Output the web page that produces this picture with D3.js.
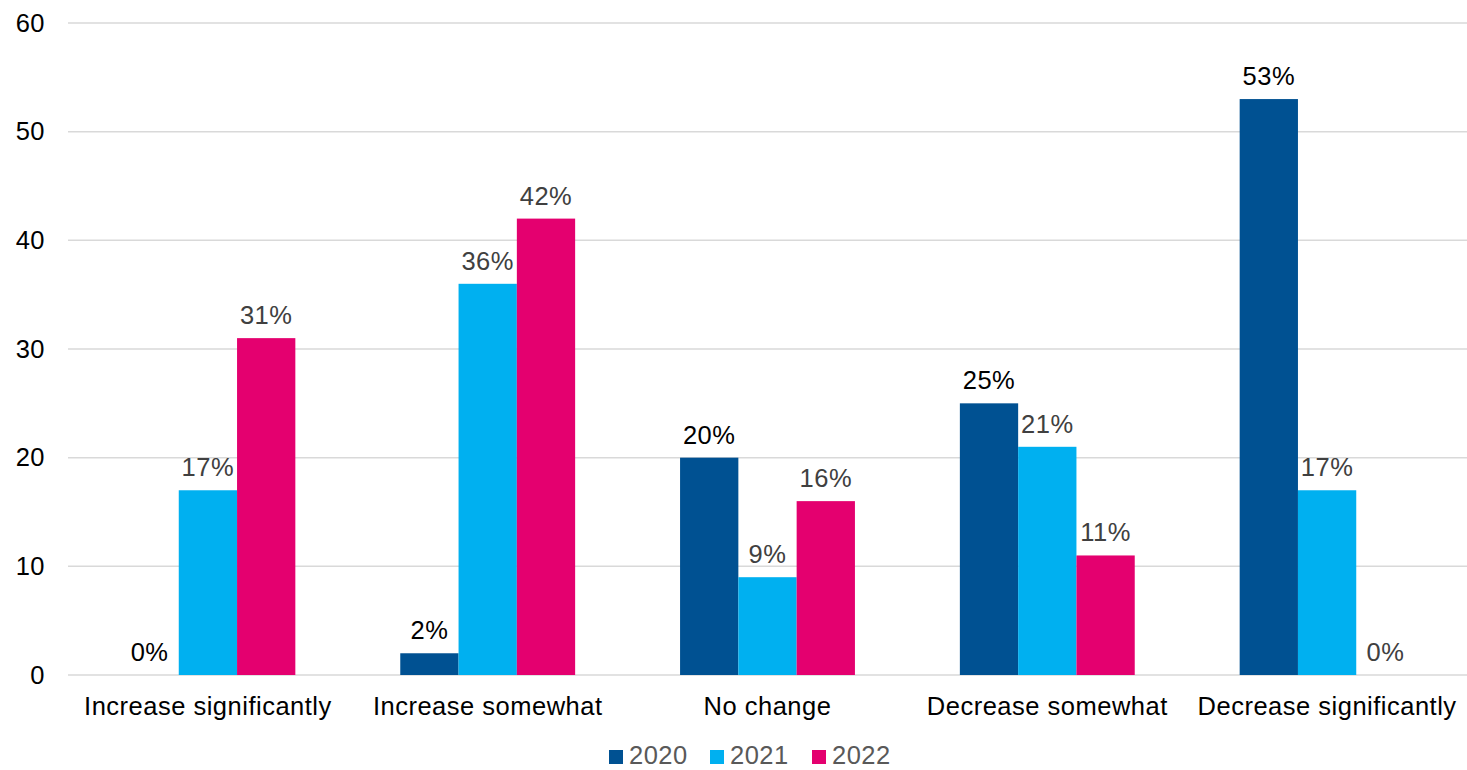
<!DOCTYPE html>
<html>
<head>
<meta charset="utf-8">
<script src="https://cdn.jsdelivr.net/npm/d3@7"></script>
<style>
  html, body { margin: 0; padding: 0; background: #fff; }
  svg { display: block; font-family: "Liberation Sans", Arial, sans-serif; }
</style>
</head>
<body>
<svg id="chart" width="1467" height="770"></svg>
<script>
// Expected change categories and yearly survey shares (%)
const categories = ["Increase significantly", "Increase somewhat", "No change", "Decrease somewhat", "Decrease significantly"];
const years = ["2020", "2021", "2022"];
const values2020 = [0, 2, 20, 25, 53];
const values2021 = [17, 36, 9, 21, 17];
const values2022 = [31, 42, 16, 11, 0];
const yTicks = [0, 10, 20, 30, 40, 50, 60];

const seriesValues = [values2020, values2021, values2022];
const colors = ["#005192", "#00B0F0", "#E4006F"];
const labelColors = ["#000000", "#404040", "#404040"];

const fontSize = 25.5;
const spacing = "0.5px";

const svg = d3.select("#chart");
const margin = { left: 68, right: 0, top: 23, bottom: 95 };
const width = 1467, height = 770;

const x0 = d3.scaleBand()
  .domain(categories)
  .range([margin.left, width - margin.right])
  .paddingInner(0.375)
  .paddingOuter(0.1875);

const x1 = d3.scaleBand()
  .domain(years)
  .range([0, x0.bandwidth()]);

const y = d3.scaleLinear()
  .domain([0, 60])
  .range([height - margin.bottom, margin.top]);

// Horizontal gridlines
svg.append("g")
  .selectAll("line")
  .data(yTicks)
  .join("line")
  .attr("x1", margin.left)
  .attr("x2", width - margin.right)
  .attr("y1", d => y(d))
  .attr("y2", d => y(d))
  .attr("stroke", "#d9d9d9")
  .attr("stroke-width", 1.5);

// Y axis labels
const yAxis = d3.axisLeft(y).tickValues(yTicks).tickSize(0).tickPadding(0);
svg.append("g")
  .attr("transform", `translate(45,0)`)
  .call(yAxis)
  .call(g => g.select(".domain").remove())
  .call(g => g.selectAll("text")
    .attr("font-size", fontSize)
    .attr("letter-spacing", spacing)
    .attr("font-family", "Liberation Sans, Arial, sans-serif")
    .attr("fill", "#000"));

// Bars
const groups = svg.append("g")
  .selectAll("g")
  .data(categories)
  .join("g")
  .attr("transform", d => `translate(${x0(d)},0)`);

groups.selectAll("rect")
  .data((c, i) => years.map((yr, s) => ({ yr, s, v: seriesValues[s][i] })))
  .join("rect")
  .attr("x", d => x1(d.yr))
  .attr("width", x1.bandwidth())
  .attr("y", d => y(d.v))
  .attr("height", d => y(0) - y(d.v))
  .attr("fill", d => colors[d.s]);

// Value labels
groups.selectAll("text")
  .data((c, i) => years.map((yr, s) => ({ yr, s, v: seriesValues[s][i] })))
  .join("text")
  .attr("x", d => x1(d.yr) + x1.bandwidth() / 2)
  .attr("y", d => y(d.v) - 14)
  .attr("text-anchor", "middle")
  .attr("font-size", fontSize)
  .attr("letter-spacing", spacing)
  .attr("fill", d => labelColors[d.s])
  .text(d => d.v + "%");

// Category axis labels
const xAxis = d3.axisBottom(x0).tickSize(0).tickPadding(0);
svg.append("g")
  .attr("transform", `translate(0,${y(0) + 22})`)
  .call(xAxis)
  .call(g => g.select(".domain").remove())
  .call(g => g.selectAll("text")
    .attr("font-size", fontSize)
    .attr("letter-spacing", spacing)
    .attr("font-family", "Liberation Sans, Arial, sans-serif")
    .attr("fill", "#000"));

// Legend
const legendX = [609, 710, 812];
const legend = svg.append("g")
  .selectAll("g")
  .data(years)
  .join("g")
  .attr("transform", (d, i) => `translate(${legendX[i]},750)`);
legend.append("rect")
  .attr("width", 14).attr("height", 14)
  .attr("fill", (d, i) => colors[i]);
legend.append("text")
  .attr("x", 20).attr("y", 14)
  .attr("font-size", fontSize)
  .attr("letter-spacing", spacing)
  .attr("fill", "#595959")
  .text(d => d);
</script>
</body>
</html>
